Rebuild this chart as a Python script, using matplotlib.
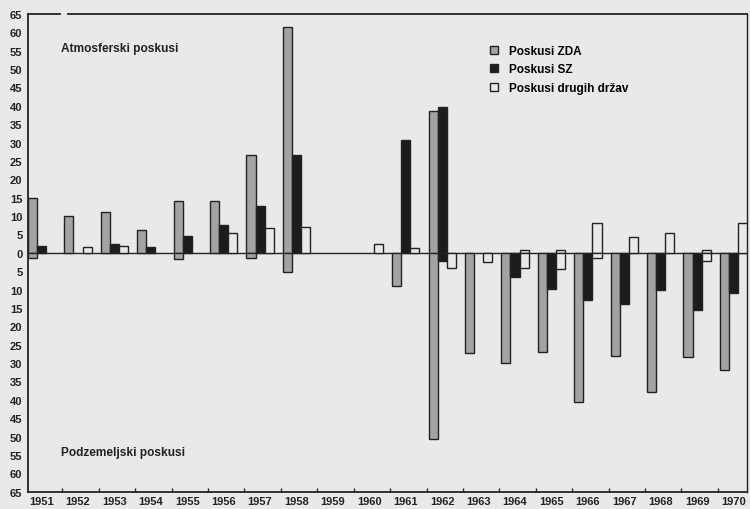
import matplotlib
matplotlib.use("Agg")
import matplotlib.pyplot as plt
from matplotlib.patches import Patch
import numpy as np

plt.rcParams['font.family'] = ['Liberation Sans', 'DejaVu Sans']

years = [str(y) for y in range(1951, 1971)]

# atmosferski poskusi (nad niclo)
zda_atm = [15, 10, 11, 6.3, 14.2, 14.1, 26.7, 61.4, 0, 0, 0, 38.6, 0, 0, 0, 0, 0, 0, 0, 0]
sz_atm = [2, 0, 2.3, 1.5, 4.5, 7.6, 12.7, 26.7, 0, 0, 30.6, 39.6, 0, 0, 0, 0, 0, 0, 0, 0]
dr_atm = [0, 1.5, 2, 0, 0, 5.4, 6.7, 6.9, 0, 2.3, 1.3, 0, 0, 0.9, 0.9, 8.1, 4.4, 5.4, 0.8, 8.1]

# podzemeljski poskusi (pod niclo)
zda_pod = [1.5, 0, 0, 0, 1.6, 0, 1.4, 5.3, 0, 0, 9.1, 50.6, 27.2, 29.9, 27.0, 40.6, 28.1, 37.9, 28.4, 32.0]
sz_pod = [0, 0, 0, 0, 0, 0, 0, 0, 0, 0, 0, 2.2, 0, 6.6, 9.8, 12.8, 13.9, 10.0, 15.5, 11.0]
dr_pod = [0, 0, 0, 0, 0, 0, 0, 0, 0, 0, 0, 4.2, 2.5, 4.1, 4.5, 1.4, 0, 0, 2.3, 0]

series_labels = ["Poskusi ZDA", "Poskusi SZ", "Poskusi drugih držav"]

bg = "#e9e9e9"
c_zda = "#a3a3a3"
c_sz = "#1c1c1c"
c_dr = bg
edge = "#222222"

fig = plt.figure(figsize=(7.5, 5.1), dpi=100, facecolor=bg)
ax = fig.add_axes([0.0373, 0.0339, 0.9587, 0.9367], facecolor=bg)

x = np.arange(len(years))
w = 0.25
colors = [c_zda, c_sz, c_dr]
atm = [zda_atm, sz_atm, dr_atm]
pod = [zda_pod, sz_pod, dr_pod]
for k in range(3):
    pos = x - w + k * w
    a = np.array(atm[k])
    p = np.array(pod[k])
    ax.bar(pos[a > 0], a[a > 0], width=w, color=colors[k], edgecolor=edge, linewidth=1.0, zorder=3)
    ax.bar(pos[p > 0], -p[p > 0], width=w, color=colors[k], edgecolor=edge, linewidth=1.0, zorder=3)

ax.axhline(0, color=edge, linewidth=1.0, zorder=2)

ax.set_xlim(-0.375, 19.37)
ax.set_ylim(-65, 65)

yt = np.arange(-65, 66, 5)
ax.set_yticks(yt)
ax.set_yticklabels([str(abs(v)) for v in yt], fontsize=8, fontweight='bold', color="#222222")
ax.tick_params(axis='y', length=0, pad=4)

ax.set_xticks(x)
ax.set_xticklabels(years, fontsize=8, fontweight='bold', color="#222222")
ax.set_xticks(x[:-1] + 0.57, minor=True)
ax.tick_params(axis='x', which='major', length=0, pad=3)
ax.tick_params(axis='x', which='minor', direction='in', length=3, width=1, color=edge)

for s in ['left', 'bottom', 'right']:
    ax.spines[s].set_color(edge)
    ax.spines[s].set_linewidth(1.3)
ax.spines['right'].set_linewidth(1.0)
ax.spines['top'].set_visible(False)
# gornja crta okvirja z majhno vrzeljo
ax.plot([0, 0.0445], [1, 1], color=edge, lw=1.3, transform=ax.transAxes, clip_on=False)
ax.plot([0.0556, 1], [1, 1], color=edge, lw=1.3, transform=ax.transAxes, clip_on=False)

ax.text(0.046, 0.929, "Atmosferski poskusi", transform=ax.transAxes, fontsize=8.6,
        fontweight='bold', color="#222222", va='center')
ax.text(0.046, 0.083, "Podzemeljski poskusi", transform=ax.transAxes, fontsize=8.6,
        fontweight='bold', color="#222222", va='center')

handles = [Patch(facecolor=c, edgecolor=edge, linewidth=1.0) for c in colors]
ax.legend(handles, series_labels, loc='upper left', bbox_to_anchor=(0.635, 0.948),
          frameon=False, handlelength=0.65, handleheight=0.65,
          handletextpad=0.9, labelspacing=0.55, borderpad=0,
          prop={'weight': 'bold', 'size': 8.5})

fig.savefig("out.png", dpi=100, facecolor=bg)
